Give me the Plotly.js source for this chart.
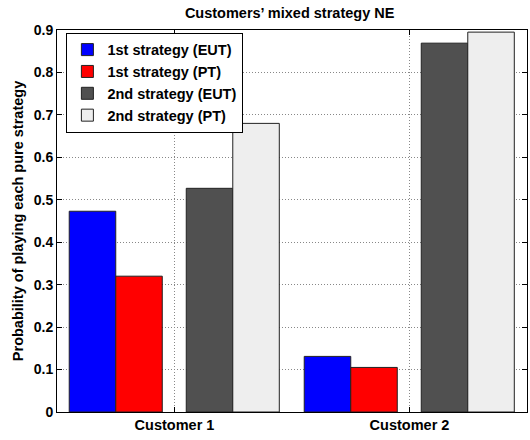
<!DOCTYPE html>
<html>
<head>
<meta charset="utf-8">
<script src="https://cdn.plot.ly/plotly-3.0.1.min.js"></script>
<style>html,body{margin:0;padding:0;background:#fff;}#chart{width:530px;height:440px;}</style>
</head>
<body>
<div id="chart"></div>
<script>
const categories = ["Customer 1", "Customer 2"];
const xPositions = [1, 2];
const seriesNames = ["1st strategy (EUT)", "1st strategy (PT)", "2nd strategy (EUT)", "2nd strategy (PT)"];
const firstEUT = [0.473, 0.131];
const firstPT = [0.320, 0.105];
const secondEUT = [0.527, 0.869];
const secondPT = [0.680, 0.895];
const yTicks = [0, 0.1, 0.2, 0.3, 0.4, 0.5, 0.6, 0.7, 0.8, 0.9];

const seriesValues = [firstEUT, firstPT, secondEUT, secondPT];
const colors = ["#0000ff", "#ff0000", "#505050", "#eeeeee"];
const offsets = [-0.448, -0.25, 0.05, 0.248];

const FONT = "Liberation Sans, Arial, Helvetica, sans-serif";

const traces = seriesValues.map((vals, i) => ({
  type: "bar",
  name: seriesNames[i],
  x: xPositions,
  y: vals,
  width: 0.198,
  offset: offsets[i],
  marker: {color: colors[i], line: {color: "#222", width: 1}},
  hoverinfo: "skip"
}));

const layout = {
  width: 530, height: 440,
  margin: {l: 57, r: 3, t: 30, b: 28},
  paper_bgcolor: "#fff", plot_bgcolor: "#fff",
  barmode: "overlay",
  showlegend: true,
  font: {family: FONT, color: "#000", weight: "bold"},
  title: {
    text: "Customers’ mixed strategy NE",
    font: {family: FONT, size: 14.5, color: "#000", weight: "bold"},
    x: 0.495, xanchor: "center", xref: "paper",
    y: 1 - 13/440, yanchor: "middle", yref: "container"
  },
  xaxis: {
    range: [0.5, 2.5],
    tickvals: xPositions,
    ticktext: categories,
    ticks: "inside", ticklen: 5, tickcolor: "#000",
    showline: true, linecolor: "#000", linewidth: 1, mirror: "ticks",
    showgrid: true, gridcolor: "#888", griddash: "1px,2px", gridwidth: 1,
    zeroline: false,
    tickfont: {family: FONT, size: 14.5, color: "#000", weight: "bold"}
  },
  yaxis: {
    range: [0, 0.9],
    tickvals: yTicks,
    ticktext: yTicks.map(v => String(v)),
    ticks: "inside", ticklen: 5, tickcolor: "#000",
    showline: true, linecolor: "#000", linewidth: 1, mirror: "ticks",
    showgrid: true, gridcolor: "#888", griddash: "1px,2px", gridwidth: 1,
    zeroline: false,
    tickfont: {family: FONT, size: 14, color: "#000", weight: "bold"},
    title: {text: "Probability of playing each pure strategy", font: {family: FONT, size: 14.5, color: "#000", weight: "bold"}, standoff: 6}
  },
  legend: {
    x: 0.02, y: 0.993, xanchor: "left", yanchor: "top",
    bgcolor: "#fff", bordercolor: "#000", borderwidth: 1,
    font: {family: FONT, size: 14.5, color: "#000", weight: "bold"},
    tracegroupgap: 0,
    itemwidth: 30,
    entrywidth: 160, entrywidthmode: "pixels"
  }
};

Plotly.newPlot("chart", traces, layout, {displayModeBar: false, staticPlot: true});
</script>
</body>
</html>
